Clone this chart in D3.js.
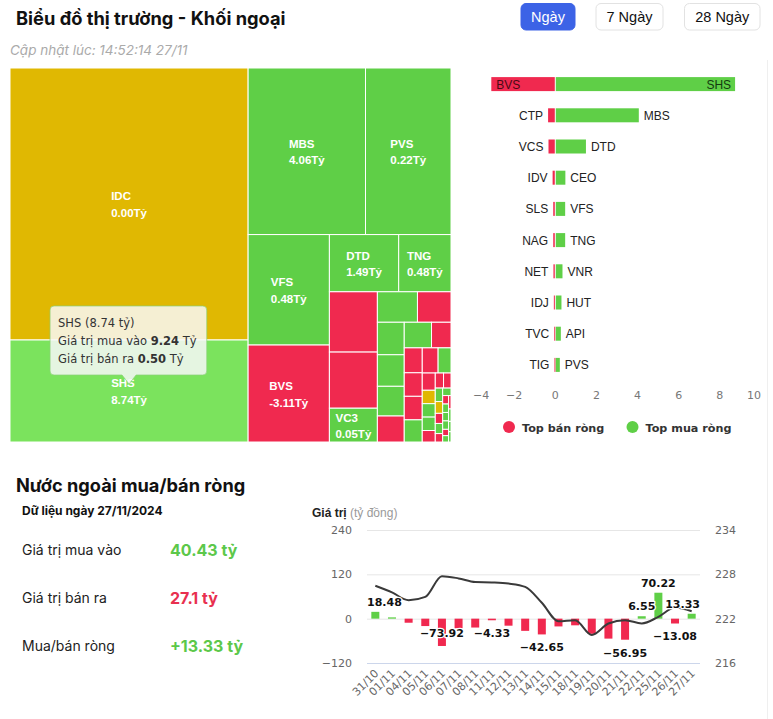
<!DOCTYPE html>
<html><head><meta charset="utf-8">
<script src="https://cdn.jsdelivr.net/npm/d3@7"></script>
<style>
html,body{margin:0;padding:0;background:#fff;}
svg{display:block;}
</style></head>
<body><svg id="c" width="773" height="719"></svg>
<script>
// ================= DATA =================
// Treemap (size = tổng giá trị giao dịch, net = mua ròng), tỷ đồng
const tmNames = ["IDC","SHS","MBS","PVS","VFS","BVS","DTD","TNG","CTP","VCS","VC3","CEO","IDV","VNR","HUT","API","SLS","DHT","NAG","NET","IDJ","TVC","L14","TIG","NTP","PLC","HLD","SHN","PVI","DXP","TAR","LAS","BCC","AMV","TDN","HHC","PSD","KLF","VGS","SD5","PVC","HDA","NVB","DL1","MST","PGS","VTZ","EID"];
const tmSize  = [25.97,9.74,7.84,5.71,3.60,3.16,1.59,1.20,1.16,1.08,0.65,0.49,0.41,0.35,0.34,0.32,0.28,0.28,0.20,0.18,0.17,0.17,0.16,0.16,0.13,0.09,0.07,0.07,0.07,0.06,0.05,0.045,0.04,0.035,0.03,0.03,0.025,0.025,0.02,0.02,0.02,0.02,0.015,0.015,0.013,0.012,0.01,0.01];
const tmNet   = [0.00,8.74,4.06,0.22,0.48,-3.11,1.49,0.48,-0.35,-0.33,0.05,0.49,-0.12,0.35,0.30,0.27,-0.10,0.12,-0.10,-0.09,-0.07,-0.05,0.06,-0.04,0.09,-0.03,0.00,0.04,0.02,-0.02,-0.02,-0.01,0.02,0.00,-0.01,0.01,-0.01,0.01,-0.01,0.01,0.01,0.01,-0.01,0.01,-0.01,0.01,0.01,0.01];
const tipName = "SHS", tipBuy = "9.24", tipSell = "0.50";

// Top bán / mua ròng
const sellNames  = ["BVS","CTP","VCS","IDV","SLS","NAG","NET","IDJ","TVC","TIG"];
const sellValues = [-3.11,-0.35,-0.33,-0.13,-0.10,-0.10,-0.09,-0.07,-0.05,-0.04];
const buyNames   = ["SHS","MBS","DTD","CEO","VFS","TNG","VNR","HUT","API","PVS"];
const buyValues  = [8.74,4.06,1.49,0.49,0.48,0.48,0.35,0.30,0.27,0.22];
const barTicks   = [-4,-2,0,2,4,6,8,10];

// Nước ngoài mua/bán ròng theo ngày
const dates    = ["31/10","01/11","04/11","05/11","06/11","07/11","08/11","11/11","12/11","13/11","14/11","15/11","18/11","19/11","20/11","21/11","22/11","25/11","26/11","27/11"];
const netFlow  = [18.48,3.5,-11,-20,-73.92,-26,-24,-4.33,-19,-33,-42.65,-21,-18,-41,-54,-56.95,6.55,70.22,-13.08,13.33];
const hnxIndex = [226.45,225.55,224.5,224.95,227.75,227.45,226.95,226.9,226.75,226.3,224.15,221.65,221.8,219.8,221.35,221.8,221.35,222.25,223.5,223.0];
const labeledDates = ["31/10","06/11","11/11","14/11","21/11","22/11","25/11","26/11","27/11"];
const leftTicks  = [-120,0,120,240];
const rightTicks = [216,222,228,234];

const statLabels = ["Giá trị mua vào","Giá trị bán ra","Mua/bán ròng"];
const statValues = ["40.43 tỷ","27.1 tỷ","+13.33 tỷ"];
const statSign   = [1,-1,1];

// ================= STYLE =================
const GREEN = "#5fcf47", GREEN_HOVER = "#7be35d", RED = "#f0294f", YELLOW = "#e0b802";
const SANS = "Inter, 'Noto Sans', sans-serif";
const ARIAL = "'Liberation Sans', Arial, sans-serif";
const DEJA = "'DejaVu Sans', Verdana, sans-serif";

const svg = d3.select("#c");

// faint right border
svg.append("line").attr("x1",767.5).attr("x2",767.5).attr("y1",60).attr("y2",719).attr("stroke","#efefef");

// ================= HEADER =================
svg.append("text").attr("x",16).attr("y",25).attr("font-family",SANS).attr("font-weight",700)
  .attr("font-size",18.3).attr("fill","#111").text("Biểu đồ thị trường - Khối ngoại");
svg.append("text").attr("x",10).attr("y",55).attr("font-family",SANS).attr("font-style","italic")
  .attr("font-size",13.5).attr("fill","#aaa").text("Cập nhật lúc: 14:52:14 27/11");

const buttons = [{t:"Ngày",x:521,w:54,on:true},{t:"7 Ngày",x:596,w:67,on:false},{t:"28 Ngày",x:684.5,w:75.5,on:false}];
buttons.forEach(b=>{
  svg.append("rect").attr("x",b.x).attr("y",3.5).attr("width",b.w).attr("height",26.5).attr("rx",5)
    .attr("fill",b.on?"#3c63e6":"#fff").attr("stroke",b.on?"#3c63e6":"#e2e2e2");
  svg.append("text").attr("x",b.x+b.w/2).attr("y",22).attr("text-anchor","middle")
    .attr("font-family",ARIAL).attr("font-size",14.5).attr("fill",b.on?"#fff":"#111").text(b.t);
});

// ================= TREEMAP =================
function hcSquarified(parent, x0, y0, x1, y1) {
  const kids = parent.children, total = parent.value;
  const A = (x1-x0)*(y1-y0);
  let W = x1-x0, H = y1-y0, dir = 0;
  let arr = [], nds = [], tot = 0, nW = 0, lW = 0, nH = 0, lH = 0, lR = NaN, nR = NaN;
  const ar = (w,h) => Math.max(w/h, h/w);
  function add(node) {
    const a = node.value / total * A;
    const last = arr[arr.length-1];
    tot += a;
    if (dir === 0) { lW = nW; lR = ar(lW, last/lW); nW = tot / H; nR = ar(nW, last/nW); }
    else { lH = nH; lR = ar(last/lH, lH); nH = tot / W; nR = ar(last/nH, nH); }
    arr.push(a); nds.push(node);
  }
  function calc(isLast) {
    const gW = isLast ? nW : lW, gH = isLast ? nH : lH;
    const n = isLast ? arr.length : arr.length - 1;
    let px = x1 - W, py = y1 - H;
    for (let k = 0; k < n; k++) {
      const nd = nds[k], a = arr[k];
      if (dir === 0) { nd.x0 = px; nd.y0 = py; nd.x1 = px + gW; nd.y1 = py + a/gW; py += a/gW; }
      else { nd.x0 = px; nd.y0 = py; nd.y1 = py + gH; nd.x1 = px + a/gH; px += a/gH; }
    }
    const keep = nds[nds.length-1];
    arr = []; nds = []; tot = 0; nW = 0; lW = 0;
    if (dir === 0) W -= gW; else H -= gH;
    dir = 1 - dir;
    if (!isLast) add(keep);
  }
  kids.forEach((c,i)=>{
    add(c);
    if (nR > lR) calc(false);
    if (i === kids.length-1) calc(true);
  });
}

const TM = {x:10, y:68, w:441, h:374};
const root = d3.hierarchy({children: tmNames.map((n,i)=>({name:n, size:tmSize[i], net:tmNet[i]}))})
  .sum(d => d.size || 0);
d3.treemap().tile(hcSquarified).size([TM.w, TM.h]).round(false)(root);

const gTM = svg.append("g").attr("transform",`translate(${TM.x},${TM.y})`);
const colorOf = d => d.data.name === tipName ? GREEN_HOVER : (d.data.net > 0 ? GREEN : d.data.net < 0 ? RED : YELLOW);
gTM.selectAll("rect").data(root.leaves()).join("rect")
  .attr("x",d=>d.x0).attr("y",d=>d.y0).attr("width",d=>d.x1-d.x0).attr("height",d=>d.y1-d.y0)
  .attr("fill",colorOf).attr("stroke","#fff").attr("stroke-width",1);

const fmt2 = d3.format(".2f");
root.leaves().forEach(d=>{
  const w = d.x1-d.x0, h = d.y1-d.y0, cx = (d.x0+d.x1)/2, cy = (d.y0+d.y1)/2;
  const l1 = d.data.name, l2 = fmt2(d.data.net).replace("−","-") + "Tỷ";
  const t = gTM.append("text").attr("font-family",ARIAL).attr("font-weight",700).attr("font-size",11.5)
    .attr("fill","#fff");
  const a = t.append("tspan").text(l1), b = t.append("tspan").text(l2);
  const mw = Math.max(a.node().getComputedTextLength(), b.node().getComputedTextLength());
  if (mw > w - 12 || h < 33) { t.remove(); return; }
  a.attr("x",cx - mw/2).attr("y",cy - 3.5);
  b.attr("x",cx - mw/2).attr("y",cy + 13);
});

// tooltip
const hov = root.leaves().find(d=>d.data.name===tipName);
const tcx = TM.x + (hov.x0+hov.x1)/2, tipY = TM.y + hov.y0 + 44;
const gTip = svg.append("g");
const tt = gTip.append("text").attr("font-family",DEJA).attr("font-size",11.5).attr("fill","#333");
const hv = tmNet[tmNames.indexOf(tipName)];
const tl = [[`${tipName} (${fmt2(hv)} tỷ)`],["Giá trị mua vào ", tipBuy, " Tỷ"],["Giá trị bán ra ", tipSell, " Tỷ"]];
tl.forEach((parts,i)=>{
  parts.forEach((p,j)=>{
    const s = tt.append("tspan").text(p);
    if (j===0) s.attr("x",0).attr("dy", i===0?0:18);
    if (j===1) s.attr("font-weight",700);
  });
});
const bb = tt.node().getBBox();
const bw = bb.width + 18, bh = 69;
const bx = tcx - 79, by = tipY - 9 - bh;
gTip.insert("path","text")
  .attr("d",`M${bx+4},${by} H${bx+bw-4} Q${bx+bw},${by} ${bx+bw},${by+4} V${by+bh-4} Q${bx+bw},${by+bh} ${bx+bw-4},${by+bh} H${tcx+7} L${tcx},${tipY} L${tcx-7},${by+bh} H${bx+4} Q${bx},${by+bh} ${bx},${by+bh-4} V${by+4} Q${bx},${by} ${bx+4},${by} Z`)
  .attr("fill","rgba(248,248,248,0.85)").attr("stroke","rgba(140,210,120,0.7)").attr("stroke-width",1);
tt.attr("transform",`translate(${bx+8},${by+21})`);

// ================= TOP BAR CHART =================
const xb = d3.scaleLinear().domain([-4,10]).range([473,761]);
const yb = d3.scaleBand().domain(d3.range(sellNames.length)).range([68.5,380.5]);
const gB = svg.append("g");
const BH = 14;
sellValues.forEach((v,i)=>{
  const yc = yb(i) + yb.bandwidth()/2;
  gB.append("rect").attr("x",xb(v)).attr("y",yc-BH/2).attr("width",Math.max(xb(0)-xb(v)-0.5,1)).attr("height",BH)
    .attr("fill",RED);
  const t = gB.append("text").attr("font-family",ARIAL).attr("font-size",12).attr("y",yc+4.5).text(sellNames[i]);
  const tw = t.node().getComputedTextLength();
  if (xb(v) - 5 - tw < xb.range()[0]) t.attr("x",xb(v)+5).attr("fill","#4a0a14");
  else t.attr("x",xb(v)-5).attr("text-anchor","end").attr("fill","#222");
});
buyValues.forEach((v,i)=>{
  const yc = yb(i) + yb.bandwidth()/2;
  gB.append("rect").attr("x",xb(0)+0.5).attr("y",yc-BH/2).attr("width",xb(v)-xb(0)-0.5).attr("height",BH)
    .attr("fill",GREEN);
  const t = gB.append("text").attr("font-family",ARIAL).attr("font-size",12).attr("y",yc+4.5).text(buyNames[i]);
  const tw = t.node().getComputedTextLength();
  if (xb(v) + 5 + tw > xb.range()[1]) t.attr("x",xb(v)-4).attr("text-anchor","end").attr("fill","#143a10");
  else t.attr("x",xb(v)+5).attr("fill","#222");
});
barTicks.forEach((v,i)=>{
  gB.append("text").attr("x",xb(v)).attr("y",399)
    .attr("text-anchor", i===0 ? "start" : i===barTicks.length-1 ? "end" : "middle")
    .attr("font-family",DEJA).attr("font-size",11).attr("fill","#777").text(d3.format("")(v));
});
// legend
[{c:RED,t:"Top bán ròng",x:509},{c:GREEN,t:"Top mua ròng",x:632.5}].forEach(l=>{
  gB.append("circle").attr("cx",l.x).attr("cy",427).attr("r",6).attr("fill",l.c);
  gB.append("text").attr("x",l.x+13).attr("y",432).attr("font-family",DEJA).attr("font-weight",700)
    .attr("font-size",11.2).attr("fill","#333").text(l.t);
});

// ================= BOTTOM LEFT =================
svg.append("text").attr("x",16).attr("y",492).attr("font-family",SANS).attr("font-weight",700)
  .attr("font-size",18.2).attr("fill","#111").text("Nước ngoài mua/bán ròng");
svg.append("text").attr("x",22).attr("y",515).attr("font-family",SANS).attr("font-weight",700)
  .attr("font-size",12).attr("fill","#111").text("Dữ liệu ngày 27/11/2024");
statLabels.forEach((s,i)=>{
  const y = 555 + i*48;
  svg.append("text").attr("x",22).attr("y",y).attr("font-family",SANS).attr("font-size",14)
    .attr("fill","#222").text(s);
  svg.append("text").attr("x",170).attr("y",y+1).attr("font-family",SANS).attr("font-weight",700)
    .attr("font-size",16).attr("fill",statSign[i]>0?"#5cc84a":"#e8304f").text(statValues[i]);
});

// ================= BOTTOM RIGHT CHART =================
const gC = svg.append("g");
gC.append("text").attr("x",312).attr("y",517).attr("font-family",ARIAL).attr("font-size",12)
  .call(t=>{ t.append("tspan").attr("font-weight",700).attr("fill","#222").text("Giá trị");
             t.append("tspan").attr("fill","#999").text(" (tỷ đồng)"); });
const xc = d3.scaleBand().domain(dates).range([367,700]);
const yL = d3.scaleLinear().domain([-120,240]).range([663,530]);
const yR = d3.scaleLinear().domain([216,234]).range([663,530]);
leftTicks.forEach(v=>{
  gC.append("line").attr("x1",367).attr("x2",700).attr("y1",yL(v)+0.5).attr("y2",yL(v)+0.5)
    .attr("stroke", v===-120 ? "#ccd6eb" : "#e6e6e6");
  gC.append("text").attr("x",352).attr("y",yL(v)+4).attr("text-anchor","end").attr("font-family",DEJA)
    .attr("font-size",11).attr("fill","#666").text(d3.format("")(v));
});
rightTicks.forEach(v=>{
  gC.append("text").attr("x",715).attr("y",yR(v)+4).attr("font-family",DEJA)
    .attr("font-size",11).attr("fill","#666").text(v);
});
const cx = d => xc(d) + xc.bandwidth()/2;
dates.forEach((d,i)=>{
  const v = netFlow[i];
  gC.append("rect").attr("x",cx(d)-4).attr("width",8)
    .attr("y", v>=0 ? yL(v) : yL(0)).attr("height", Math.abs(yL(v)-yL(0)))
    .attr("fill", v>=0 ? GREEN : RED);
});
gC.append("path").datum(dates.map((d,i)=>[cx(d), yR(hnxIndex[i])]))
  .attr("d", d3.line().curve(d3.curveMonotoneX)).attr("fill","none").attr("stroke","#3a3a3a").attr("stroke-width",2);
dates.forEach((d,i)=>{
  if (!labeledDates.includes(d)) return;
  const v = netFlow[i];
  let yc = v >= 0 ? yL(v) - 10 : yL(v) + 13;
  if (v < 0 && yc + 7 > 663) yc = yL(v) - 13;
  const t = gC.append("text").attr("y",yc+4).attr("font-family",DEJA).attr("font-weight",700)
    .attr("font-size",11).attr("fill","#111").attr("stroke","#fff").attr("stroke-width",2.5)
    .attr("paint-order","stroke").attr("stroke-linejoin","round").text(d3.format(".2f")(v));
  const w = t.node().getComputedTextLength();
  let x = cx(d) - w/2;
  if (x < 367) x = 367;
  if (x + w > 700) x = 700 - w;
  t.attr("x",x);
});
dates.forEach(d=>{
  gC.append("text").attr("transform",`translate(${cx(d)+4},${674}) rotate(-45)`).attr("text-anchor","end")
    .attr("font-family",DEJA).attr("font-size",11).attr("fill","#666").text(d);
});
</script>
</body></html>
